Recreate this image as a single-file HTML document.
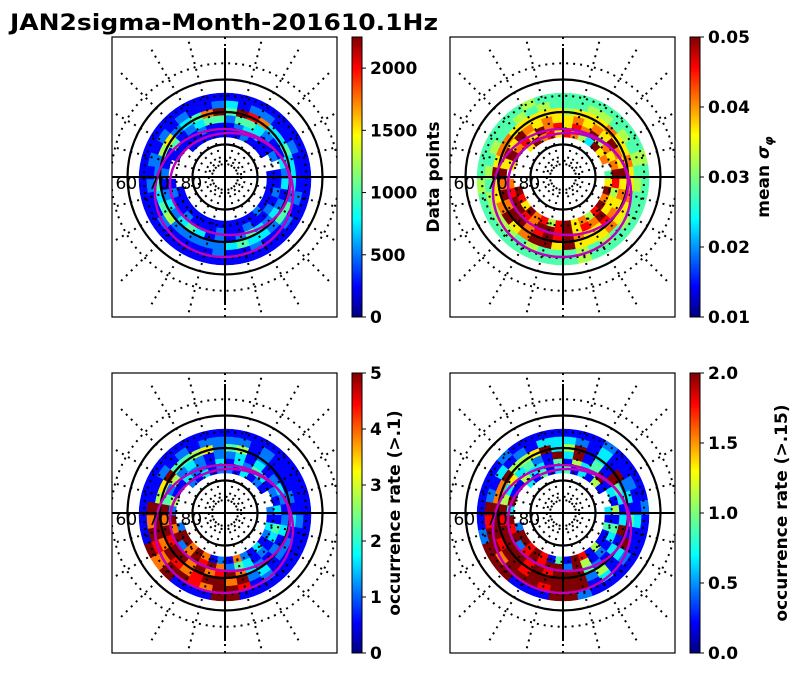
<!DOCTYPE html>
<html><head><meta charset="utf-8">
<style>
body{margin:0;background:#fff;}
svg{display:block;font-family:"DejaVu Sans","Liberation Sans",sans-serif;}
</style></head>
<body>
<svg id="s" width="792" height="674" viewBox="0 0 792 674" xmlns="http://www.w3.org/2000/svg">
<defs>
<linearGradient id="jet" x1="0" y1="1" x2="0" y2="0">
<stop offset="0" stop-color="#00007f"/><stop offset="0.11" stop-color="#0000ff"/>
<stop offset="0.35" stop-color="#00ffff"/><stop offset="0.5" stop-color="#7dff7a"/>
<stop offset="0.65" stop-color="#ffff00"/><stop offset="0.89" stop-color="#ff0000"/>
<stop offset="1" stop-color="#7f0000"/>
</linearGradient>
</defs>
<text x="10" y="30" font-size="22" font-weight="bold" textLength="428" lengthAdjust="spacingAndGlyphs">JAN2sigma-Month-201610.1Hz</text>
</svg>
<script>
// ---- data: rings (inner->outer) x 36 sectors clockwise from top; digit d => fraction d/9 of colorbar range; '.' = no data
const p1Rings=[
"112111"+"..1111"+"121111"+"111111"+"11...."+".11111",
"123311"+"2.1121"+"211211"+"211121"+"121..1"+"111211",
"244321"+"132312"+"323421"+"213432"+"321211"+"412344",
"498733"+"433324"+"423343"+"222225"+"434225"+"623479",
"312211"+"211121"+"211211"+"211112"+"112121"+"212112",
"111111"+"111111"+"111111"+"111111"+"111111"+"111111"];
const p2Rings=[
"875396"+"7.4697"+"985769"+"858796"+"89...."+".69786",
"687957"+"679856"+"697869"+"899789"+"987.69"+"786978",
"676769"+"769676"+"786679"+"898799"+"797969"+"697676",
"566676"+"676676"+"676669"+"699769"+"766967"+"766666",
"445545"+"454544"+"545454"+"445455"+"554545"+"445454",
"444444"+"454444"+"444454"+"444444"+"445444"+"444544"];
const p3Rings=[
"213121"+"..2132"+"131271"+"217979"+"92...."+".21312",
"132431"+"213143"+"121342"+"798972"+"979251"+"132213",
"231312"+"321231"+"212379"+"879799"+"897942"+"523212",
"451211"+"121312"+"213297"+"998789"+"799956"+"944562",
"221211"+"111211"+"112189"+"978997"+"897911"+"212122",
"111111"+"111111"+"111119"+"911197"+"911111"+"111111"];
const p4Rings=[
"413151"+"..3141"+"151891"+"418989"+"92...."+".31413",
"153491"+"315143"+"121592"+"998982"+"989391"+"153314",
"391419"+"431391"+"312499"+"989899"+"998953"+"634219",
"591319"+"231419"+"315299"+"999899"+"899977"+"955693",
"321311"+"211311"+"213199"+"989997"+"998921"+"312133",
"111211"+"112111"+"111129"+"911199"+"921111"+"121111"];
const p1Ticks=["0","500","1000","1500","2000"]; const p1TickVals=[0,500,1000,1500,2000]; const p1Range=[0,2250];
const p2Ticks=["0.01","0.02","0.03","0.04","0.05"]; const p2TickVals=[0.01,0.02,0.03,0.04,0.05]; const p2Range=[0.01,0.05];
const p3Ticks=["0","1","2","3","4","5"]; const p3TickVals=[0,1,2,3,4,5]; const p3Range=[0,5];
const p4Ticks=["0.0","0.5","1.0","1.5","2.0"]; const p4TickVals=[0,0.5,1,1.5,2]; const p4Range=[0,2];
const latLabels=["60","70","80"];

const NS="http://www.w3.org/2000/svg";
const svg=document.getElementById('s');
function mk(t,a,p){const e=document.createElementNS(NS,t);for(const k in a)e.setAttribute(k,a[k]);(p||svg).appendChild(e);return e;}
function jet(v){v=Math.max(0,Math.min(1,v));
 const st=[[0,[0,0,127]],[0.11,[0,0,255]],[0.35,[0,255,255]],[0.5,[125,255,122]],[0.65,[255,255,0]],[0.89,[255,0,0]],[1,[127,0,0]]];
 for(let i=1;i<st.length;i++){if(v<=st[i][0]){const a=st[i-1],b=st[i],t=(v-a[0])/(b[0]-a[0]);
  return 'rgb('+a[1].map((c,j)=>Math.round(c+(b[1][j]-c)*t)).join(',')+')';}}return 'rgb(127,0,0)';}
function rOf(lat){return (90-lat)*3.25;}
function pt(cx,cy,r,a){return [cx+r*Math.sin(a),cy-r*Math.cos(a)];}

function panel(id,bx,by,rings,ticks,tickVals,range,label,labelX){
 const cx=bx+113,cy=by+140;
 const clip=mk('clipPath',{id:'c'+id});mk('rect',{x:bx,y:by,width:225,height:280},clip);
 const g=mk('g',{'clip-path':'url(#c'+id+')'});
 
 
 const r0=42,r1=86,nR=rings.length,nS=36;
 rings.forEach((row,ri)=>{
  for(let si=0;si<nS;si++){const ch=row[si];if(!ch||ch==='.')continue;
   const v=parseInt(ch)/9;
   const ra=r0+(r1-r0)*ri/nR, rb=r0+(r1-r0)*(ri+1)/nR;
   const a0=si*2*Math.PI/nS, a1=(si+1)*2*Math.PI/nS;
   const p0=pt(cx,cy+2,ra,a0),p1=pt(cx,cy+2,rb,a0),p2=pt(cx,cy+2,rb,a1),p3=pt(cx,cy+2,ra,a1);
   const c=mk('path',{d:`M${p0}L${p1}A${rb},${rb} 0 0 1 ${p2}L${p3}A${ra},${ra} 0 0 0 ${p0}Z`,fill:jet(v),stroke:jet(v),'stroke-width':0.5},g);
   
   
  }});
 [55,65,75,85].forEach(l=>{mk('circle',{cx,cy,r:rOf(l),fill:'none',stroke:'#000','stroke-width':2,'stroke-dasharray':'2,5'},g);});
 for(let k=0;k<24;k++){const a=k*Math.PI/12;const q0=pt(cx,cy,12,a),q1=pt(cx,cy,150,a);
  mk('line',{x1:q0[0],y1:q0[1],x2:q1[0],y2:q1[1],stroke:'#000','stroke-width':2,'stroke-dasharray':'2,5'},g);}
 [60,70,80].forEach(l=>{mk('circle',{cx,cy,r:rOf(l),fill:'none',stroke:'#000','stroke-width':2.2},g);});
 mk('line',{x1:bx,y1:cy,x2:bx+225,y2:cy,stroke:'#000','stroke-width':2},g);
 mk('line',{x1:cx,y1:cy-129,x2:cx,y2:cy+128,stroke:'#000','stroke-width':2},g);
 const m1=mk('ellipse',{cx:cx-1,cy:cy+16,rx:69,ry:64,fill:'none',stroke:'#bf00bf','stroke-width':2.5},g);
 
 const m2=mk('ellipse',{cx:cx+5,cy:cy+7,rx:60,ry:51,fill:'none',stroke:'#bf00bf','stroke-width':2.5},g);
 
 latLabels.forEach(t=>{const tx=mk('text',{x:cx-rOf(+t)-12,y:cy+12,'font-size':17},g);tx.textContent=t;
  });
 mk('rect',{x:bx,y:by,width:225,height:280,fill:'none',stroke:'#000','stroke-width':1.2});
 const cbx=bx+240;
 const cb=mk('rect',{x:cbx,y:by,width:10,height:280,fill:'url(#jet)',stroke:'#000','stroke-width':1});
 
 tickVals.forEach((tv,i)=>{const y=by+280-(tv-range[0])/(range[1]-range[0])*280;
  mk('line',{x1:cbx+10,y1:y,x2:cbx+14,y2:y,stroke:'#000','stroke-width':1});
  const tx=mk('text',{x:cbx+18,y:y+6,'font-size':17,'font-weight':'bold'});tx.textContent=ticks[i];
  });
 const lb=mk('text',{x:labelX,y:by+140,'font-size':17,'font-weight':'bold','text-anchor':'middle',transform:`rotate(-90 ${labelX} ${by+140})`});
 lb.innerHTML=label;
 
}
panel(1,112,37,p1Rings,p1Ticks,p1TickVals,p1Range,'Data points',439);
panel(2,450,37,p2Rings,p2Ticks,p2TickVals,p2Range,'mean <tspan font-style="italic">σ</tspan><tspan font-style="italic" font-size="12" dy="4">φ</tspan>',769);
panel(3,112,373,p3Rings,p3Ticks,p3TickVals,p3Range,'occurrence rate (&gt;.1)',400);
panel(4,450,373,p4Rings,p4Ticks,p4TickVals,p4Range,'occurrence rate (&gt;.15)',787);
</script>
</body></html>
